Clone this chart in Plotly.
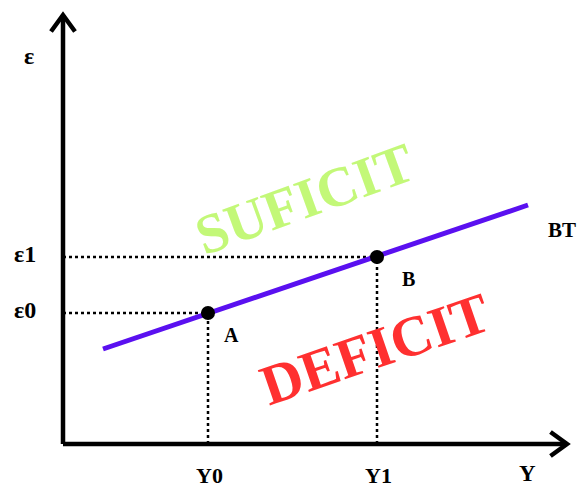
import plotly.graph_objects as go

# balanza comercial BT en el plano (Y, ε)
bt_x = [4.0, 46.5]
bt_y = [9.5, 23.9]

point_names = ["A", "B"]
point_x = [14.5, 31.4]
point_y = [13.1, 18.7]

x_ticks = ["Y0", "Y1"]
y_ticks = ["ε0", "ε1"]

x_axis_len = 50.4
y_axis_len = 42.9

FONT = "Times New Roman, Liberation Serif, serif"
AXIS_W = 4.5

fig = go.Figure()

# ejes con flechas
fig.add_trace(go.Scatter(x=[0, 0], y=[0, y_axis_len], mode="lines",
                         line=dict(color="black", width=AXIS_W), hoverinfo="skip"))
fig.add_trace(go.Scatter(x=[0, x_axis_len], y=[0, 0], mode="lines",
                         line=dict(color="black", width=AXIS_W), hoverinfo="skip"))
fig.add_trace(go.Scatter(x=[-1.2, 0, 1.2], y=[y_axis_len - 1.65, y_axis_len, y_axis_len - 1.65],
                         mode="lines", line=dict(color="black", width=AXIS_W), hoverinfo="skip"))
fig.add_trace(go.Scatter(x=[x_axis_len - 1.65, x_axis_len, x_axis_len - 1.65], y=[1.2, 0, -1.2],
                         mode="lines", line=dict(color="black", width=AXIS_W), hoverinfo="skip"))

# lineas punteadas
for px, py in zip(point_x, point_y):
    fig.add_trace(go.Scatter(x=[0, px], y=[py, py], mode="lines",
                             line=dict(color="black", width=2.5, dash="dot"), hoverinfo="skip"))
    fig.add_trace(go.Scatter(x=[px, px], y=[0, py], mode="lines",
                             line=dict(color="black", width=2.5, dash="dot"), hoverinfo="skip"))

# recta BT
fig.add_trace(go.Scatter(x=bt_x, y=bt_y, mode="lines",
                         line=dict(color="#5a10f0", width=5), hoverinfo="skip"))

# puntos A y B
fig.add_trace(go.Scatter(x=point_x, y=point_y, mode="markers",
                         marker=dict(color="black", size=14), hoverinfo="skip"))

def label(x, y, text, size=21, color="black", angle=0):
    fig.add_annotation(x=x, y=y, text="<b>" + text + "</b>", showarrow=False,
                       xanchor="center", yanchor="middle", textangle=angle,
                       font=dict(family=FONT, size=size, color=color))

label(-3.4, 38.8, "ε", size=24)
for t, py in zip(y_ticks, point_y):
    label(-3.8, py + 0.3, t, size=24)
for t, px in zip(x_ticks, point_x):
    label(px + 0.1, -3.1, t, size=22)
label(46.4, -2.9, "Y", size=23)
label(49.9, 21.4, "BT", size=21)
label(point_x[0] + 2.3, point_y[0] - 2.2, point_names[0], size=20)
label(point_x[1] + 3.1, point_y[1] - 2.2, point_names[1], size=20)

label(24.1, 24.5, "SUFICIT", size=56, color="#c3f878", angle=-20)
label(31.2, 9.6, "DEFICIT", size=57, color="#ff3030", angle=-19)

fig.update_layout(
    width=582, height=487,
    margin=dict(l=0, r=0, t=0, b=0),
    plot_bgcolor="white", paper_bgcolor="white",
    showlegend=False,
    xaxis=dict(range=[-6.3, 51.9], visible=False, fixedrange=True),
    yaxis=dict(range=[-4.3, 44.4], visible=False, fixedrange=True),
)

fig.write_html("out.html", config={"displayModeBar": False},
               post_script="document.body.style.margin='0';")
